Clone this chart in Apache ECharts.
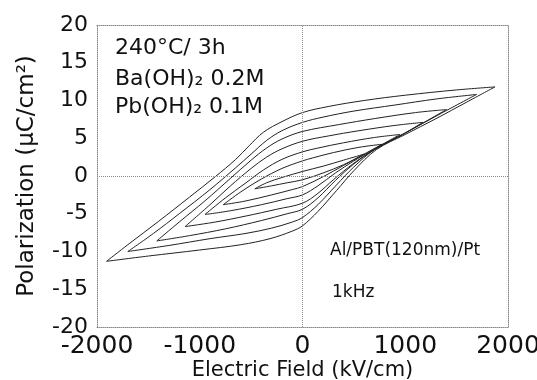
<!DOCTYPE html>
<html>
<head>
<meta charset="utf-8">
<script src="https://cdn.jsdelivr.net/npm/echarts@6/dist/echarts.min.js"></script>
<style>html,body{margin:0;padding:0;background:#fff}#c{width:537px;height:380px}</style>
</head>
<body>
<div id="c"></div>
<script>
// Axis ticks
const xTicks = [-2000, -1000, 0, 1000, 2000];
const yTicks = [-20, -15, -10, -5, 0, 5, 10, 15, 20];

// Hysteresis loops: upper branch (field decreasing) and lower branch (field increasing), [E kV/cm, P uC/cm2]
const loop7Upper = [[1873,11.8],[1500,11.4],[1000,10.7],[600,10.0],[250,9.2],[0,8.4],[-200,7.2],[-380,5.8],[-520,4.0],[-650,2.2],[-850,-0.1],[-1100,-2.8],[-1400,-6.0],[-1700,-9.1],[-1907,-11.3]];
const loop7Lower = [[-1907,-11.3],[-1500,-10.6],[-1000,-9.8],[-600,-9.1],[-316,-8.3],[-100,-7.3],[0,-6.6],[150,-4.7],[333,-1.9],[500,0.7],[720,3.5],[1000,5.5],[1300,7.6],[1600,9.8],[1873,11.8]];
const loop6Upper = [[1694,10.8],[1300,10.2],[900,9.4],[500,8.6],[200,7.8],[0,7.1],[-200,6.0],[-350,4.7],[-500,2.9],[-650,1.1],[-900,-1.8],[-1200,-5.0],[-1450,-7.6],[-1700,-10.0]];
const loop6Lower = [[-1700,-10.0],[-1300,-9.2],[-900,-8.3],[-550,-7.6],[-300,-6.9],[-100,-6.1],[0,-5.5],[150,-3.8],[330,-1.2],[500,1.2],[700,3.5],[1000,5.7],[1350,8.3],[1694,10.8]];
const loop5Upper = [[1402,8.8],[1100,8.4],[700,7.6],[350,6.8],[0,5.9],[-200,4.9],[-350,3.7],[-500,2.1],[-700,-0.3],[-950,-3.3],[-1200,-6.1],[-1418,-8.6]];
const loop5Lower = [[-1418,-8.6],[-1100,-7.9],[-750,-7.0],[-400,-5.9],[-150,-5.0],[0,-4.4],[150,-2.9],[320,-0.6],[500,1.6],[700,3.5],[1000,5.7],[1402,8.8]];
const loop4Upper = [[1172,7.1],[900,6.7],[550,6.0],[250,5.3],[0,4.6],[-200,3.6],[-350,2.5],[-500,1.0],[-700,-1.3],[-900,-3.8],[-1143,-6.7]];
const loop4Lower = [[-1143,-6.7],[-850,-6.1],[-550,-5.3],[-250,-4.4],[0,-3.6],[150,-2.3],[300,-0.5],[500,1.7],[700,3.5],[950,5.3],[1172,7.1]];
const loop3Upper = [[950,5.5],[700,5.1],[400,4.4],[150,3.7],[0,3.2],[-200,2.2],[-380,0.8],[-550,-0.9],[-750,-2.9],[-949,-5.1]];
const loop3Lower = [[-949,-5.1],[-700,-4.6],[-400,-3.8],[-150,-3.0],[0,-2.5],[150,-1.3],[320,0.4],[500,2.0],[700,3.6],[950,5.5]];
const loop2Upper = [[775,4.2],[550,3.8],[300,3.1],[100,2.4],[0,2.0],[-200,1.0],[-400,-0.4],[-600,-2.1],[-771,-3.8]];
const loop2Lower = [[-771,-3.8],[-550,-3.3],[-300,-2.5],[-100,-1.8],[0,-1.4],[200,-0.1],[400,1.4],[600,2.9],[775,4.2]];
const loop1Upper = [[600,2.9],[400,2.1],[200,1.3],[0,0.6],[-200,-0.2],[-350,-0.9],[-464,-1.7]];
const loop1Lower = [[-464,-1.7],[-300,-1.3],[-150,-0.9],[0,-0.5],[200,0.4],[400,1.5],[600,2.9]];

const branches = [loop7Upper, loop7Lower, loop6Upper, loop6Lower, loop5Upper, loop5Lower,
                  loop4Upper, loop4Lower, loop3Upper, loop3Lower, loop2Upper, loop2Lower,
                  loop1Upper, loop1Lower];

const FONT = 'DejaVu Sans';
const dotted = { type: 'dotted', color: '#8a8a8a', width: 1 };

const series = branches.map((d, i) => ({
  type: 'line', data: d, showSymbol: false, smooth: 0.35, silent: true,
  lineStyle: { color: '#222', width: 1 }, z: 3,
  markLine: i === 0 ? {
    symbol: 'none', silent: true, label: { show: false },
    lineStyle: dotted, data: [{ xAxis: 0 }, { yAxis: 0 }]
  } : undefined
}));

const plain = v => String(v);

const chart = echarts.init(document.getElementById('c'));
chart.setOption({
  backgroundColor: '#fff',
  animation: false,
  grid: { left: 97, right: 29, top: 25, bottom: 53, containLabel: false, outerBoundsMode: 'none' },
  xAxis: [{
    type: 'value', min: xTicks[0], max: xTicks[xTicks.length - 1], interval: 1000,
    axisLine: { show: true, onZero: false, lineStyle: dotted },
    axisTick: { show: false }, splitLine: { show: false },
    axisLabel: { fontSize: 25, fontFamily: FONT, color: '#111', margin: 7, formatter: plain },
    name: 'Electric Field (kV/cm)', nameLocation: 'middle', nameGap: 33, nameMoveOverlap: false,
    nameTextStyle: { fontSize: 21, fontFamily: FONT, color: '#111', verticalAlign: 'top' }
  }, {
    type: 'value', position: 'top', min: xTicks[0], max: xTicks[xTicks.length - 1],
    axisLine: { show: true, onZero: false, lineStyle: dotted },
    axisTick: { show: false }, splitLine: { show: false }, axisLabel: { show: false }
  }],
  yAxis: [{
    type: 'value', min: yTicks[0], max: yTicks[yTicks.length - 1], interval: 5,
    axisLine: { show: true, onZero: false, lineStyle: dotted },
    axisTick: { show: false }, splitLine: { show: false },
    axisLabel: { fontSize: 22, fontFamily: FONT, color: '#111', margin: 9, formatter: plain },
    name: 'Polarization (\u03BCC/cm\u00B2)', nameLocation: 'middle', nameGap: 58, nameMoveOverlap: false,
    nameTextStyle: { fontSize: 23, fontFamily: FONT, color: '#111' }
  }, {
    type: 'value', position: 'right', min: yTicks[0], max: yTicks[yTicks.length - 1],
    axisLine: { show: true, onZero: false, lineStyle: dotted },
    axisTick: { show: false }, splitLine: { show: false }, axisLabel: { show: false }
  }],
  series: series,
  graphic: [
    { type: 'text', x: 115, y: 48, style: { text: '240\u00B0C/ 3h', font: '22px "DejaVu Sans"', fill: '#111', verticalAlign: 'middle' } },
    { type: 'text', x: 115, y: 79, style: { text: 'Ba(OH)\u2082 0.2M', font: '22px "DejaVu Sans"', fill: '#111', verticalAlign: 'middle' } },
    { type: 'text', x: 115, y: 107, style: { text: 'Pb(OH)\u2082 0.1M', font: '22px "DejaVu Sans"', fill: '#111', verticalAlign: 'middle' } },
    { type: 'text', x: 330, y: 251, style: { text: 'Al/PBT(120nm)/Pt', font: '17px "DejaVu Sans"', fill: '#111', verticalAlign: 'middle' } },
    { type: 'text', x: 332, y: 293, style: { text: '1kHz', font: '17px "DejaVu Sans"', fill: '#111', verticalAlign: 'middle' } }
  ]
});
</script>
</body>
</html>
